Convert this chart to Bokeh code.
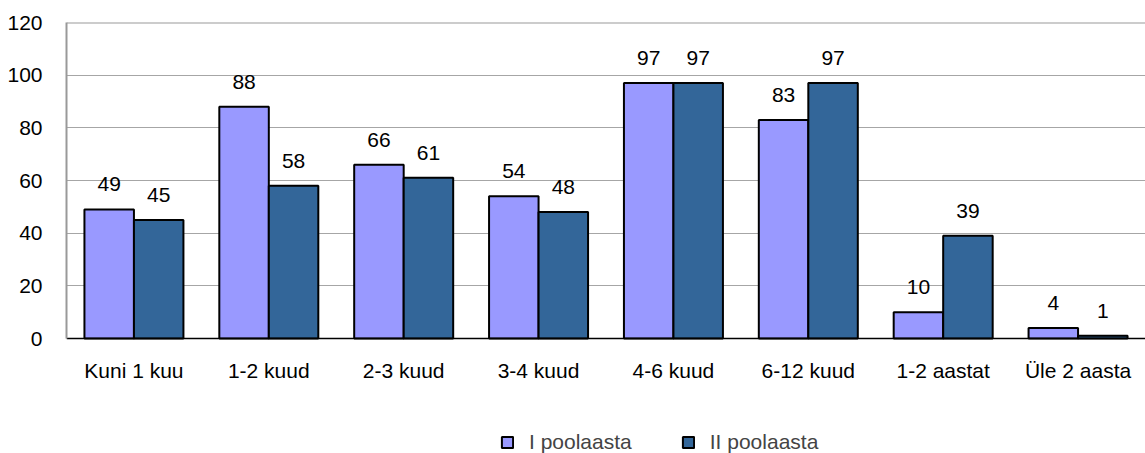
from bokeh.plotting import figure
from bokeh.models import ColumnDataSource, FactorRange, Legend, LegendItem, Range1d, FixedTicker, Span
from bokeh.transform import dodge
from bokeh.core.properties import value
from bokeh.embed import file_html
from bokeh.resources import INLINE

categories = ["Kuni 1 kuu", "1-2 kuud", "2-3 kuud", "3-4 kuud",
              "4-6 kuud", "6-12 kuud", "1-2 aastat", "Üle 2 aasta"]
series1_name = "I poolaasta"
series2_name = "II poolaasta"
series1 = [49, 88, 66, 54, 97, 83, 10, 4]
series2 = [45, 58, 61, 48, 97, 97, 39, 1]
y_ticks = [0, 20, 40, 60, 80, 100, 120]

FONT = "Liberation Sans"
FS = "21px"
C1 = "#9999FF"
C2 = "#336699"

W, H = 1145, 453
TOP, LEFT = 22, 66
ZERO_Y = 338  # pixel row of the value axis zero
ymax = y_ticks[-1]
units_per_px = ymax / (ZERO_Y - TOP)
ymin = -(H - ZERO_Y) * units_per_px  # room below the axis for labels and legend

src = ColumnDataSource(dict(
    cat=categories, s1=series1, s2=series2,
    l1=[str(v) for v in series1], l2=[str(v) for v in series2],
))

p = figure(x_range=FactorRange(*categories), y_range=Range1d(ymin, ymax),
           width=W, height=H, output_backend="svg", toolbar_location=None,
           min_border_left=LEFT, min_border_right=0, min_border_top=TOP, min_border_bottom=0)

bw = 0.367
off = bw / 2
r1 = p.vbar(x=dodge("cat", -off, range=p.x_range), top="s1", width=bw, source=src,
            fill_color=C1, line_color="black", line_width=2)
r2 = p.vbar(x=dodge("cat", off, range=p.x_range), top="s2", width=bw, source=src,
            fill_color=C2, line_color="black", line_width=2)

for col, lab, o in (("s1", "l1", -off), ("s2", "l2", off)):
    p.text(x=dodge("cat", o, range=p.x_range), y=col, text=lab, source=src,
           text_align="center", text_baseline="bottom", y_offset=-18,
           text_font=value(FONT), text_font_size=FS, text_color="black")

p.xgrid.grid_line_color = None
p.ygrid.grid_line_color = "#a6a6a6"
p.ygrid.grid_line_width = 1
p.yaxis.ticker = FixedTicker(ticks=y_ticks)
p.yaxis.bounds = (0, ymax)

p.outline_line_color = None
p.add_layout(Span(location=ymax, dimension="width", line_color="#999999", line_width=2))

for ax in (p.xaxis[0], p.yaxis[0]):
    ax.major_tick_out = 0
    ax.major_tick_in = 0
    ax.minor_tick_out = 0
    ax.minor_tick_in = 0
    ax.major_label_text_font = FONT
    ax.major_label_text_font_size = FS
    ax.major_label_text_color = "black"

p.xaxis.fixed_location = 0
p.xaxis.axis_line_color = "black"
p.xaxis.axis_line_width = 1.5
p.xaxis.major_label_standoff = 20
p.yaxis.axis_line_color = "#999999"
p.yaxis.axis_line_width = 2
p.yaxis.major_label_standoff = 24

legend = Legend(items=[LegendItem(label=series1_name, renderers=[r1]),
                       LegendItem(label=series2_name, renderers=[r2])],
                orientation="horizontal", location=(434, -1),
                border_line_color=None, background_fill_alpha=0,
                padding=0, margin=0, spacing=49, label_standoff=15,
                glyph_width=14, glyph_height=14,
                label_text_font=FONT, label_text_font_size=FS)
p.add_layout(legend, "center")

open("out.html", "w").write(file_html(p, INLINE))
